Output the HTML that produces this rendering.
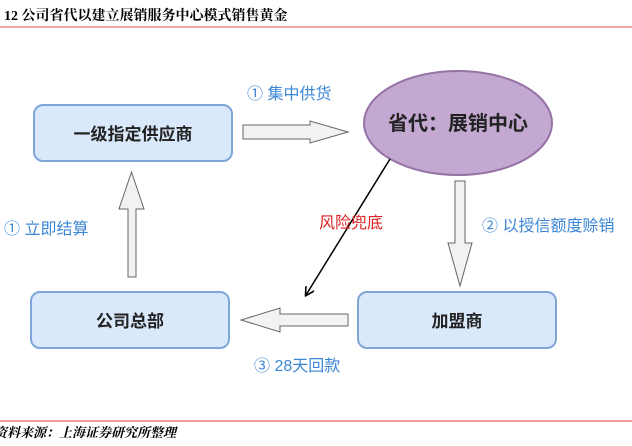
<!DOCTYPE html>
<html><head><meta charset="utf-8"><style>
html,body{margin:0;padding:0;background:#fff;}
body{width:632px;height:441px;overflow:hidden;}
text{font-family:"Liberation Sans","Noto Sans CJK SC",sans-serif;}
text.serif{font-family:"Liberation Serif","Noto Serif CJK SC",serif;}
</style></head><body>
<svg width="632" height="441" viewBox="0 0 632 441" xmlns="http://www.w3.org/2000/svg">
<defs>
<marker id="ah" markerWidth="10" markerHeight="10" refX="8" refY="5" orient="auto" markerUnits="userSpaceOnUse"><path d="M0,0 L9,5 L0,10" fill="none" stroke="#000" stroke-width="1.6"/></marker>
</defs>
<text class="serif" x="4" y="20" font-size="14" font-weight="bold" fill="#000">12 公司省代以建立展销服务中心模式销售黄金</text>
<line x1="0" y1="27" x2="632" y2="27" stroke="#e88a8a" stroke-width="1.5"/>
<line x1="0" y1="421" x2="632" y2="421" stroke="#d9333a" stroke-width="1"/>
<text class="serif" x="-6" y="437" font-size="13" font-style="italic" font-weight="bold" fill="#000">资料来源：上海证券研究所整理</text>

<rect x="34" y="105" width="198" height="56" rx="9" fill="#dae8fc" stroke="#7ea6d8" stroke-width="2"/>
<text x="133" y="140" font-size="17" font-weight="bold" text-anchor="middle" fill="#222">一级指定供应商</text>
<rect x="31" y="292" width="198" height="56" rx="9" fill="#dae8fc" stroke="#7ea6d8" stroke-width="2"/>
<text x="130" y="327" font-size="17" font-weight="bold" text-anchor="middle" fill="#222">公司总部</text>
<rect x="358" y="292" width="198" height="56" rx="9" fill="#dae8fc" stroke="#7ea6d8" stroke-width="2"/>
<text x="457" y="327" font-size="17" font-weight="bold" text-anchor="middle" fill="#222">加盟商</text>

<ellipse cx="458" cy="123" rx="94" ry="52" fill="#c3a8d1" stroke="#9673a6" stroke-width="2"/>
<text x="458" y="130" font-size="20" font-weight="bold" text-anchor="middle" fill="#222">省代：展销中心</text>

<path d="M243,125 L310,125 L310,121 L348,132 L310,143 L310,139 L243,139 Z" fill="#f2f2f2" stroke="#666" stroke-width="1"/>
<path d="M128,277 L128,209 L119,209 L131.5,172 L144,209 L136,209 L136,277 Z" fill="#f2f2f2" stroke="#666" stroke-width="1"/>
<path d="M455,181 L465,181 L465,243 L472,243 L460,286 L448,243 L455,243 Z" fill="#f2f2f2" stroke="#666" stroke-width="1"/>
<path d="M348,314 L280,314 L280,308 L241,320 L280,332 L280,326 L348,326 Z" fill="#f2f2f2" stroke="#666" stroke-width="1"/>
<line x1="390" y1="159" x2="306" y2="295" stroke="#000" stroke-width="1.5" marker-end="url(#ah)"/>

<text x="247" y="99" font-size="16" fill="#3c86d6">① 集中供货</text>
<text x="4" y="234" font-size="16" fill="#3c86d6">① 立即结算</text>
<text x="482" y="231" font-size="16" fill="#3c86d6">② 以授信额度赊销</text>
<text x="254" y="371" font-size="16" fill="#3c86d6">③ 28天回款</text>
<text x="319" y="228" font-size="16" fill="#e02020">风险兜底</text>
</svg>
</body></html>
